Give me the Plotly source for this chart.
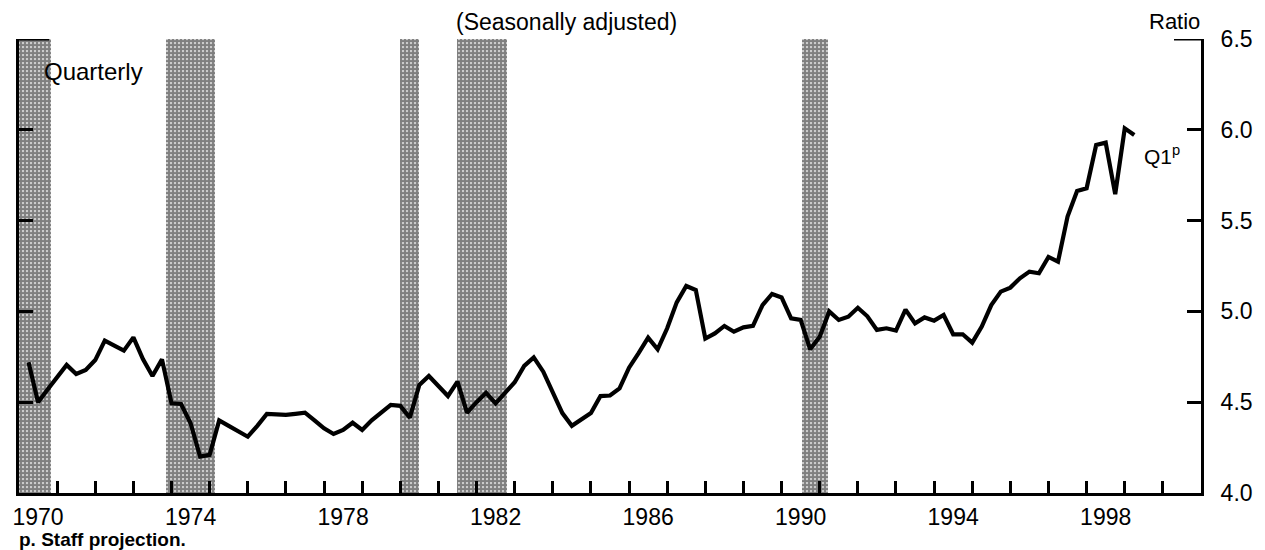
import plotly.graph_objects as go

# ---------------- data ----------------
start_year = 1970
ratio = [
    4.72, 4.50, 4.57, 4.64,      # 1970
    4.705, 4.655, 4.677, 4.732,  # 1971
    4.839, 4.811, 4.784, 4.857,  # 1972
    4.738, 4.644, 4.736, 4.494,  # 1973
    4.49, 4.384, 4.20, 4.21,     # 1974
    4.40, 4.37, 4.338, 4.31,     # 1975
    4.37, 4.435, 4.433, 4.43,    # 1976
    4.436, 4.442, 4.40, 4.356,   # 1977
    4.325, 4.347, 4.387, 4.347,  # 1978
    4.40, 4.44, 4.485, 4.48,     # 1979
    4.415, 4.595, 4.644, 4.589,  # 1980
    4.534, 4.613, 4.442, 4.50,   # 1981
    4.552, 4.494, 4.556, 4.61,   # 1982
    4.70, 4.747, 4.668, 4.55,    # 1983
    4.44, 4.37, 4.405, 4.44,     # 1984
    4.534, 4.537, 4.576, 4.69,   # 1985
    4.77, 4.855, 4.791, 4.907,   # 1986
    5.05, 5.14, 5.118, 4.85,     # 1987
    4.879, 4.92, 4.888, 4.912,   # 1988
    4.92, 5.035, 5.096, 5.077,   # 1989
    4.962, 4.953, 4.791, 4.86,   # 1990
    5.00, 4.953, 4.971, 5.02,    # 1991
    4.973, 4.898, 4.907, 4.894,  # 1992
    5.01, 4.934, 4.967, 4.949,   # 1993
    4.98, 4.874, 4.874, 4.828,   # 1994
    4.916, 5.035, 5.109, 5.131,  # 1995
    5.182, 5.219, 5.21, 5.30,    # 1996
    5.274, 5.522, 5.663, 5.678,  # 1997
    5.916, 5.929, 5.646, 6.008,  # 1998
    5.971,                       # 1999 Q1 (projection)
]
# quarter positions (end of quarter, in years)
quarter_x = [start_year + (i // 4) + ((i % 4) + 1) / 4 for i in range(len(ratio))]

# recession periods (years)
rec_start = [1970.0, 1973.85, 1980.0, 1981.5, 1990.54]
rec_end = [1970.85, 1975.15, 1980.5, 1982.8, 1991.22]

# axis ticks / labels
year_labels = ["1970", "1974", "1978", "1982", "1986", "1990", "1994", "1998"]
label_pos = [int(y) + 0.5 for y in year_labels]
year_ticks = list(range(1971, 2001))
y_ticks = [4.0, 4.5, 5.0, 5.5, 6.0, 6.5]

x_min, x_max = 1970, 2001
y_min, y_max = 4.0, 6.5

FONT = "Liberation Sans, Arial, Helvetica, sans-serif"

fig = go.Figure()

# recession shading (stippled)
fig.add_trace(go.Bar(
    x=[(s + e) / 2 for s, e in zip(rec_start, rec_end)],
    y=[y_max - y_min] * len(rec_start),
    base=[y_min] * len(rec_start),
    width=[e - s for s, e in zip(rec_start, rec_end)],
    marker=dict(
        color="white",
        line=dict(width=0),
        pattern=dict(shape=".", fgcolor="black", bgcolor="white", size=4, solidity=0.8),
    ),
    hoverinfo="skip",
    showlegend=False,
))

# ratio line
fig.add_trace(go.Scatter(
    x=quarter_x, y=ratio, mode="lines",
    line=dict(color="black", width=4.2),
    showlegend=False,
))

# page has an 8px body margin; margins below compensate for it
PLOT_TOP = 31      # px from figure top
PLOT_H = 550 - 31 - 65

fig.update_layout(
    width=1265, height=550,
    margin=dict(l=5, r=72, t=PLOT_TOP, b=65),
    paper_bgcolor="white", plot_bgcolor="white",
    font=dict(family=FONT, color="black", size=22),
    bargap=0, barmode="overlay",
    xaxis=dict(
        range=[x_min, x_max], showgrid=False, zeroline=False,
        showline=True, linecolor="black", linewidth=3,
        tickmode="array", tickvals=label_pos, ticktext=year_labels,
        ticks="", tickfont=dict(size=23, family=FONT),
        ticklabelstandoff=1,
        minor=dict(tickmode="array", tickvals=year_ticks, ticks="inside",
                   ticklen=12, tickwidth=2.5, tickcolor="black", showgrid=False),
    ),
    yaxis=dict(
        range=[y_min, y_max], side="right", showgrid=False, zeroline=False,
        showline=True, linecolor="black", linewidth=3, mirror="ticks",
        tickmode="array", tickvals=y_ticks, tickformat=".1f",
        ticks="inside", ticklen=14, tickwidth=2.5, tickcolor="black",
        tickfont=dict(size=23, family=FONT), ticklabelstandoff=12,
    ),
    shapes=[
        dict(type="line", xref="x", yref="y", xsizemode="pixel", xanchor=x_min,
             x0=0, x1=30, y0=y_max, y1=y_max, line=dict(color="black", width=3)),
        dict(type="line", xref="x", yref="y", xsizemode="pixel", xanchor=x_max,
             x0=-27, x1=0, y0=y_max, y1=y_max, line=dict(color="black", width=3)),
    ],
    annotations=[
        dict(text="(Seasonally adjusted)", xref="paper", yref="paper",
             x=0.463, y=1 + PLOT_TOP / PLOT_H, xanchor="center", yanchor="top",
             borderpad=0, showarrow=False, font=dict(size=23, family=FONT)),
        dict(text="Ratio", xref="paper", yref="paper", x=1.0, y=1 + PLOT_TOP / PLOT_H,
             xanchor="right", yanchor="top", borderpad=0, showarrow=False,
             font=dict(size=22, family=FONT)),
        dict(text="Quarterly", xref="x", yref="y", x=1970.6, y=6.32,
             xanchor="left", yanchor="middle", showarrow=False,
             font=dict(size=24, family=FONT)),
        dict(text="Q1<sup>p</sup>", xref="x", yref="y", x=1999.45, y=5.86,
             xanchor="left", yanchor="middle", showarrow=False,
             font=dict(size=21, family=FONT)),
        dict(text="<b>p. Staff projection.</b>", xref="paper", yref="paper",
             x=-0.002, y=-0.1035, xanchor="left", yanchor="middle", showarrow=False,
             font=dict(size=19, family=FONT)),
    ],
)

fig.write_html("out.html")
